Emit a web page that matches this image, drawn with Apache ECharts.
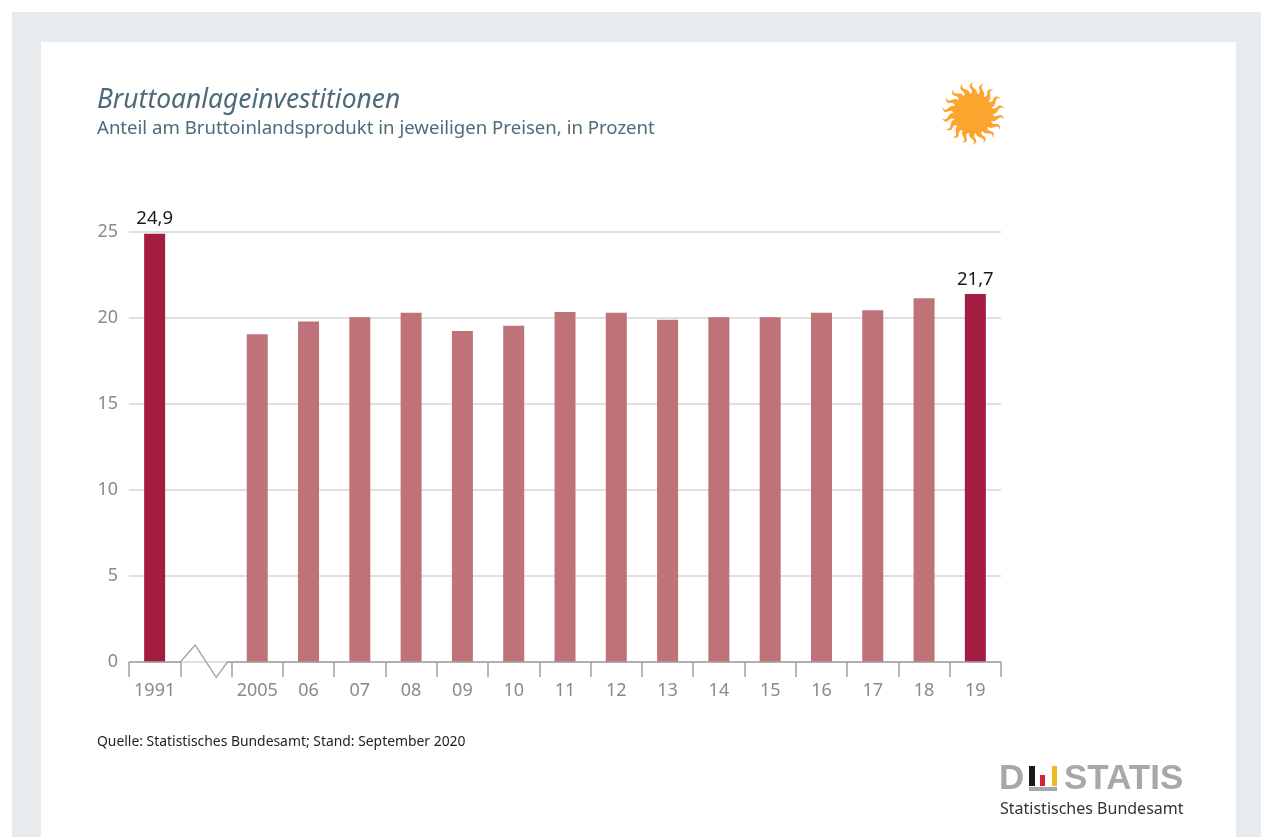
<!DOCTYPE html>
<html><head><meta charset="utf-8">
<style>
html,body{margin:0;padding:0;background:#fff;overflow:hidden}
#frame{position:absolute;left:12px;top:12px;width:1249px;height:825px;background:#e8ebee}
#panel{position:absolute;left:41px;top:42px;width:1195px;height:795px;background:#fff}
#main{position:absolute;left:0;top:0;width:1261px;height:837px}
</style>
<script src="https://cdn.jsdelivr.net/npm/echarts@6/dist/echarts.min.js"></script>
</head><body>
<div id="frame"></div><div id="panel"></div><div id="main"></div>
<script>
const titleText = 'Bruttoanlageinvestitionen';
const subtitleText = 'Anteil am Bruttoinlandsprodukt in jeweiligen Preisen, in Prozent';
const sourceText = 'Quelle: Statistisches Bundesamt; Stand: September 2020';
const categories = ['1991','','2005','06','07','08','09','10','11','12','13','14','15','16','17','18','19'];
const values = [24.9,null,19.05,19.8,20.05,20.3,19.25,19.55,20.35,20.3,19.9,20.05,20.05,20.3,20.45,21.15,21.4];
const highlighted = ['1991','19'];
const printedLabels = {'1991':'24,9','19':'21,7'};
const yTicks = {min:0,max:25,interval:5};

const FONT = '"Noto Sans", sans-serif';
const chart = echarts.init(document.getElementById('main'), null, {renderer:'canvas'});

// decorative wavy sun rays, as tapered polygons
function sunRays(cx, cy, r0, r1, n){
  const els = [];
  const steps = 12;
  for(let i=0;i<n;i++){
    const a = (i+0.5)/n*Math.PI*2;
    const left=[], right=[];
    for(let s=0;s<=steps;s++){
      const t = s/steps, r = r0+(r1-r0)*t;
      const off = 2.6*Math.sin(t*Math.PI*2)*(0.4+0.6*t);
      const hw = 2.9*(1-t)+0.5;
      const ux=Math.cos(a), uy=Math.sin(a), vx=-uy, vy=ux;
      left.push([cx+ux*r+vx*(off+hw), cy+uy*r+vy*(off+hw)]);
      right.unshift([cx+ux*r+vx*(off-hw), cy+uy*r+vy*(off-hw)]);
    }
    els.push({type:'polygon',shape:{points:left.concat(right)},style:{fill:'#fba52e'},silent:true});
  }
  return els;
}

chart.setOption({
  animation:false,
  grid:{left:129,top:232,width:872,height:430,containLabel:false},
  title:[
    {text:titleText,left:92,top:82,textStyle:{fontFamily:FONT,fontStyle:'italic',fontWeight:'normal',fontSize:26.4,color:'#4f6a78'}},
    {text:subtitleText,left:92,top:114,textStyle:{fontFamily:FONT,fontWeight:'normal',fontSize:18.6,color:'#4f6a78'}},
    {text:sourceText,left:92,top:730,textStyle:{fontFamily:FONT,fontWeight:'normal',fontSize:13.9,color:'#222'}}
  ],
  xAxis:{type:'category',data:categories,
    axisLine:{show:false},
    axisTick:{show:true,alignWithLabel:false,length:15,lineStyle:{color:'#a0a0a0',width:1.5}},
    axisLabel:{interval:0,color:'#8a8a8a',fontFamily:FONT,fontSize:18,margin:20},
    splitLine:{show:false}},
  yAxis:{type:'value',min:yTicks.min,max:yTicks.max,interval:yTicks.interval,
    axisLine:{show:false},axisTick:{show:false},
    axisLabel:{color:'#8a8a8a',fontFamily:FONT,fontSize:18,margin:11,align:'right'},
    splitLine:{lineStyle:{color:'#d6d6d6',width:1.5}}},
  series:[
    {type:'bar',barWidth:21,z:3,
     data:values.map((v,i)=>({value:v,
       itemStyle:{color:highlighted.includes(categories[i])?'#a51c43':'#bf7278'},
       label:printedLabels[categories[i]]?{show:true,position:'top',distance:5,formatter:printedLabels[categories[i]],color:'#1a1a1a',fontFamily:FONT,fontSize:18.5}:{show:false}}))},
    {type:'custom',z:4,silent:true,data:categories.map((c,i)=>[i]),
     encode:{x:0},
     renderItem:function(params,api){
       const i = api.value(0), p = api.coord([i,0]), w = api.size([1,0])[0];
       const l = p[0]-w/2, r = p[0]+w/2, y = p[1];
       const pts = categories[i]==='' ?
         [[l,y],[l+w*0.29,y-w*0.33],[l+w*0.70,y+w*0.30],[l+w*0.92,y],[r,y]] :
         [[l,y],[r,y]];
       return {type:'polyline',shape:{points:pts},style:{fill:null,stroke:'#a0a0a0',lineWidth:1.3}};
     }}
  ],
  graphic:{elements:[
    {type:'group',silent:true,children:[
      {type:'circle',shape:{cx:973,cy:113.5,r:20},style:{fill:'#fba52e'}},
      ...sunRays(973,113.5,18,31,18)
    ]},
    {type:'text',left:999,top:762,style:{text:'D',font:'bold 35px "Liberation Sans"',fill:'#a8a8a8'}},
    {type:'rect',shape:{x:1029,y:766,width:6,height:20},style:{fill:'#1a1a1a'}},
    {type:'rect',shape:{x:1040,y:775,width:5,height:11},style:{fill:'#d3243a'}},
    {type:'rect',shape:{x:1052,y:766,width:5,height:20},style:{fill:'#f3b81f'}},
    {type:'rect',shape:{x:1029,y:787,width:28,height:4},style:{fill:'#a8a8a8'}},
    {type:'text',left:1064,top:762,style:{text:'STATIS',font:'bold 35px "Liberation Sans"',fill:'#a8a8a8'}},
    {type:'text',left:1000,top:801,style:{text:'Statistisches Bundesamt',font:'16px "Noto Sans"',fill:'#333'}}
  ]}
});
</script>
</body></html>
